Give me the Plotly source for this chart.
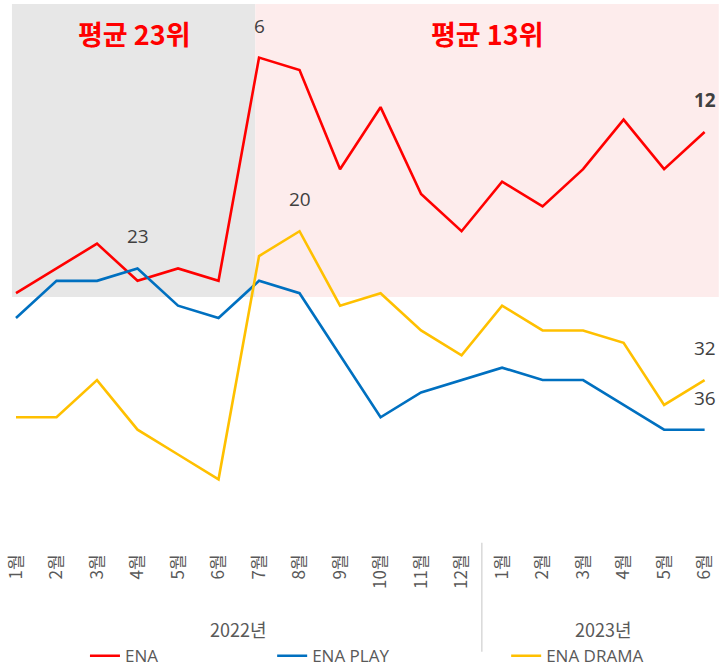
import plotly.graph_objects as go

months = ["1월", "2월", "3월", "4월", "5월", "6월", "7월", "8월", "9월", "10월", "11월", "12월",
          "1월", "2월", "3월", "4월", "5월", "6월"]
years = ["2022년", "2023년"]
ena = [25, 23, 21, 24, 23, 24, 6, 7, 15, 10, 17, 20, 16, 18, 15, 11, 15, 12]
ena_play = [27, 24, 24, 23, 26, 27, 24, 25, 30, 35, 33, 32, 31, 32, 32, 34, 36, 36]
ena_drama = [35, 35, 32, 36, 38, 40, 22, 20, 26, 25, 28, 30, 26, 28, 28, 29, 34, 32]
avg_titles = ["평균 23위", "평균 13위"]

idx = list(range(len(months)))
KR = "Noto Sans CJK KR"
GRAY_TXT = "#595959"

fig = go.Figure()
series = [("ENA", ena, "#FF0000", "legend"),
          ("ENA PLAY", ena_play, "#0070C0", "legend2"),
          ("ENA DRAMA", ena_drama, "#FFC000", "legend3")]
for name, vals, col, lg in series:
    fig.add_trace(go.Scatter(x=idx, y=vals, mode="lines", name=name,
                             line=dict(color=col, width=2.6), legend=lg,
                             hoverinfo="skip"))

# background shading
fig.add_shape(type="rect", xref="x", yref="y", x0=-0.1, x1=5.91, y0=1.69, y1=25.31,
              fillcolor="#E7E7E7", line_width=0, layer="below")
fig.add_shape(type="rect", xref="x", yref="y", x0=5.91, x1=17.35, y0=1.69, y1=25.31,
              fillcolor="#FDECEC", line_width=0, layer="below")

# separator between years
fig.add_shape(type="line", xref="x", yref="paper", x0=11.5, x1=11.5, y0=0.013, y1=-0.185,
              line=dict(color="#D9D9D9", width=1.5))

# data labels
labels = [(6, ena, False), (17, ena, True), (7, ena_drama, False), (3, ena_play, False),
          (17, ena_drama, False), (17, ena_play, False)]
for i, vals, bold in labels:
    v = vals[i]
    txt = f"<b>{v}</b>" if bold else str(v)
    fig.add_annotation(x=i, y=v, text=txt, showarrow=False, yshift=32,
                       font=dict(family="Open Sans", size=19, color="#404040"))

# average titles
fig.add_annotation(x=2.93, y=4.02, text=f"<b>{avg_titles[0]}</b>", showarrow=False,
                   font=dict(family=KR, size=27, color="#FF0000"))
fig.add_annotation(x=11.63, y=4.02, text=f"<b>{avg_titles[1]}</b>", showarrow=False,
                   font=dict(family=KR, size=27, color="#FF0000"))

# year labels
fig.add_annotation(x=5.5, y=-0.1435, yref="paper", yanchor="middle", text=years[0],
                   showarrow=False, font=dict(family=KR, size=18, color=GRAY_TXT))
fig.add_annotation(x=14.5, y=-0.1435, yref="paper", yanchor="middle", text=years[1],
                   showarrow=False, font=dict(family=KR, size=18, color=GRAY_TXT))

leg_common = dict(orientation="h", yanchor="middle", xanchor="left", y=-0.193,
                  font=dict(family="Open Sans", size=17, color=GRAY_TXT),
                  bgcolor="rgba(0,0,0,0)", tracegroupgap=0)
fig.update_layout(
    width=720, height=666,
    margin=dict(l=0, r=0, t=0, b=116, autoexpand=False),
    plot_bgcolor="white", paper_bgcolor="white",
    showlegend=True,
    legend=dict(x=0.118, **leg_common),
    legend2=dict(x=0.378, **leg_common),
    legend3=dict(x=0.703, **leg_common),
    xaxis=dict(range=[-0.395, 17.38], tickmode="array", tickvals=idx, ticktext=months,
               tickangle=-90, showgrid=False, zeroline=False, showline=False,
               automargin=False, ticks="", ticklen=0,
               tickfont=dict(family=KR, size=17, color=GRAY_TXT)),
    yaxis=dict(range=[45.7, 1.36], showgrid=False, zeroline=False, showline=False,
               automargin=False, showticklabels=False, ticks=""),
)

fig.write_html("out.html")
